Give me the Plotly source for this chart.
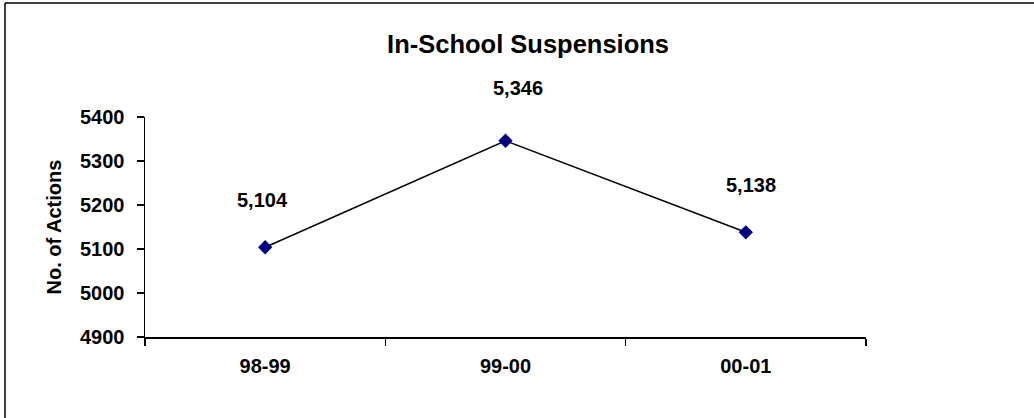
import plotly.graph_objects as go

categories = ["98-99", "99-00", "00-01"]
actions = [5104, 5346, 5138]
y_ticks = [4900, 5000, 5100, 5200, 5300, 5400]

FONT = "Liberation Sans, Arial, sans-serif"

def bold(size):
    return dict(family=FONT, size=size, color="black", weight="bold")

fig = go.Figure()
fig.add_trace(go.Scatter(
    x=categories, y=actions, mode="lines+markers",
    line=dict(color="black", width=1.5),
    marker=dict(symbol="diamond", size=11, color="#000080",
                line=dict(width=0)),
    hoverinfo="skip", showlegend=False,
))

xshifts = [-3, 12, 5]
yshifts = [47, 53, 47]
for i, (c, v) in enumerate(zip(categories, actions)):
    fig.add_annotation(x=c, y=v, text=f"{v:,}", showarrow=False,
                       xshift=xshifts[i], yshift=yshifts[i], font=bold(20))

fig.update_layout(
    width=1034, height=418,
    margin=dict(l=145, r=168, t=117, b=81),
    paper_bgcolor="white", plot_bgcolor="white",
    font=dict(family=FONT, color="black"),
    title=dict(text="In-School Suspensions", x=0.5107, xref="container",
               xanchor="center", y=1 - 44 / 418, yref="container", yanchor="middle",
               font=bold(25.5)),
    xaxis=dict(type="category", range=[-0.5, 2.5], showgrid=False, zeroline=False,
               showline=True, linecolor="black", linewidth=1.5,
               ticks="outside", tickson="boundaries", ticklen=7, tickwidth=1.5,
               tickcolor="black", tickfont=bold(20), ticklabelstandoff=10),
    yaxis=dict(range=[4900, 5400], tickvals=y_ticks,
               ticktext=[str(t) for t in y_ticks],
               showgrid=False, zeroline=False,
               showline=True, linecolor="black", linewidth=1.5,
               ticks="outside", ticklen=7, tickwidth=1.5, tickcolor="black",
               tickfont=bold(20), ticklabelstandoff=8,
               title=dict(text="No. of Actions", standoff=13, font=bold(20))),
    shapes=[
        dict(type="line", xref="paper", yref="paper",
             x0=(5 - 145) / 721, x1=2, y0=(337 - 3) / 220, y1=(337 - 3) / 220,
             line=dict(color="black", width=1.5)),
        dict(type="line", xref="paper", yref="paper",
             x0=(5 - 145) / 721, x1=(5 - 145) / 721, y0=-2, y1=(337 - 3) / 220,
             line=dict(color="black", width=1.5)),
    ],
)

fig.write_html("out.html", config={"displayModeBar": False, "staticPlot": True},
               post_script="document.body.style.margin='0';document.body.style.overflow='hidden';")
